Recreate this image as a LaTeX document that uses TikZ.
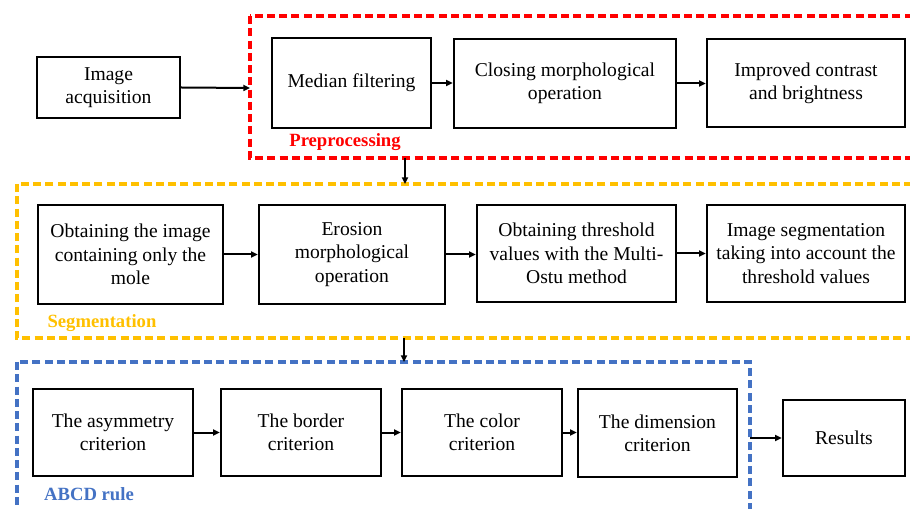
\documentclass[tikz,border=0pt]{standalone}
\usepackage{fontspec}
\setmainfont{Liberation Serif}
\usetikzlibrary{arrows.meta}
\definecolor{prered}{HTML}{FF0000}
\definecolor{segyellow}{HTML}{FFC000}
\definecolor{abcdblue}{HTML}{4472C4}
\tikzset{
  box/.style={draw=black, line width=1.8pt, fill=white, align=center, inner sep=0pt,
    font=\fontsize{14.7}{17.5}\selectfont},
  conn/.style={line width=1.5pt, -{Triangle[length=5pt,width=4.5pt]}},
  group/.style={line width=2.3pt, dash pattern=on 6pt off 3.2pt},
  grouplabel/.style={font=\fontsize{14}{16}\selectfont\bfseries, inner sep=0pt}
}
\newcommand\mybox[6]{\node[box, minimum width={(#3-#1)*0.75pt}, minimum height={(#4-#2)*0.75pt}] (#5) at ({(#1+#3)/2},{(#2+#4)/2}) {#6};}
\begin{document}
\begin{tikzpicture}[x=0.75pt,y=-0.75pt]
\useasboundingbox (0,0) rectangle (910,509);
\clip (0,0) rectangle (910,509);
% group frames
\draw[group, draw=prered, line width=2.5pt] (250,16) rectangle (930,158);
\draw[group, draw=segyellow] (17,184) rectangle (930,338);
\draw[group, draw=abcdblue] (17,362) rectangle (750,530);
\coordinate (redL) at (250,88);
\coordinate (redB) at (405,158);
\coordinate (yelT) at (405,184);
\coordinate (yelB) at (404,338);
\coordinate (bluT) at (404,362);
\coordinate (bluR) at (750,438);
\node[grouplabel, text=prered] (lpre) at (345,142) {Preprocessing};
\node[grouplabel, text=segyellow] (lseg) at (102,323) {Segmentation};
\node[grouplabel, text=abcdblue] (labcd) at (89,494) {ABCD rule};
% boxes
\mybox{37}{57}{180}{118}{acq}{Image\\acquisition}
\mybox{272}{38}{431}{128}{med}{Median filtering}
\mybox{454}{39}{676}{128}{clo}{Closing morphological\\operation}
\mybox{707}{39}{905}{127}{imp}{Improved contrast\\and brightness}
\mybox{38}{205}{223}{304}{obt}{Obtaining the image\\containing only the\\mole}
\mybox{259}{205}{445}{304}{ero}{Erosion\\morphological\\operation}
\mybox{477}{205}{676}{302}{thr}{Obtaining threshold\\values with the Multi-\\Ostu method}
\mybox{707}{205}{905}{302}{seg}{Image segmentation\\taking into account the\\threshold values}
\mybox{33}{389}{193}{476}{asy}{The asymmetry\\criterion}
\mybox{221}{389}{381}{476}{bor}{The border\\criterion}
\mybox{402}{389}{562}{476}{col}{The color\\criterion}
\mybox{578}{389}{737}{477}{dim}{The dimension\\criterion}
\mybox{783}{400}{905}{476}{res}{Results}
% connectors
\draw[conn] (acq.east) -- (redL);
\draw[conn] (med.east) -- (clo.west |- med.east);
\draw[conn] (clo.east) -- (imp.west |- clo.east);
\draw[conn] (redB) -- (yelT);
\draw[conn] (obt.east) -- (ero.west);
\draw[conn] (ero.east) -- (thr.west |- ero.east);
\draw[conn] (thr.east) -- (seg.west);
\draw[conn] (yelB) -- (bluT);
\draw[conn] (asy.east) -- (bor.west);
\draw[conn] (bor.east) -- (col.west);
\draw[conn] (col.east) -- (dim.west |- col.east);
\draw[conn] (bluR) -- (res.west);
\end{tikzpicture}
\end{document}
